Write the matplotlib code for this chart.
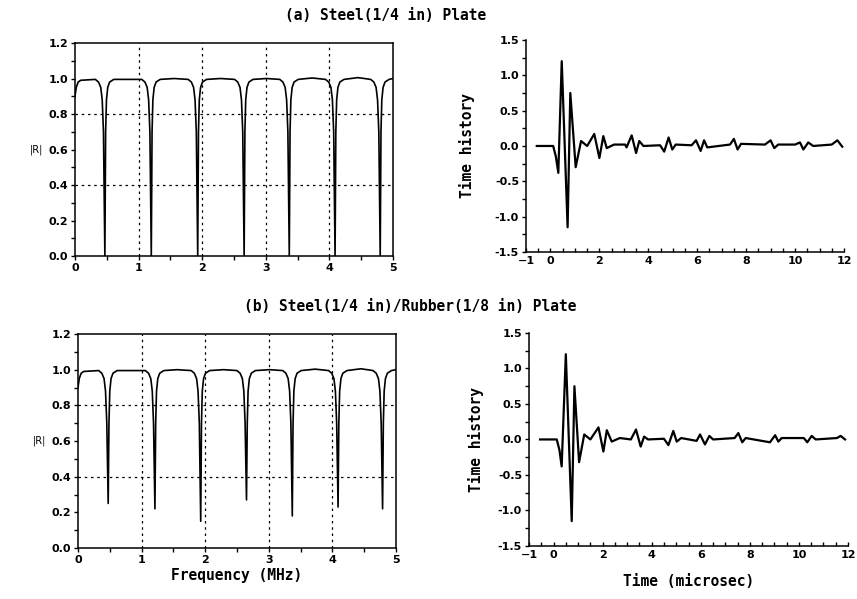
import numpy as np
import matplotlib
matplotlib.use("Agg")
from matplotlib import pyplot as plt
from matplotlib.ticker import MultipleLocator, FormatStrFormatter

# |R| curves: plateau points and resonance dips (MHz, |R|)
plateau_f = [0.0, 0.02, 0.05, 0.09, 0.84, 1.56, 2.29, 3.01, 3.73, 4.45, 5.0]
plateau_r = [0.90, 0.95, 0.98, 0.99, 0.995, 1.0, 1.0, 1.0, 1.003, 1.005, 1.0]

# shape of one dip, offsets from its centre and levels
dip_offset = [-0.15, -0.10, -0.065, -0.042, -0.022, 0.0, 0.012, 0.025, 0.045, 0.075, 0.14]
dip_level = [0.995, 0.98, 0.95, 0.88, 0.70, 0.0, 0.70, 0.88, 0.95, 0.98, 0.995]

dip_a = [0.47, 1.20, 1.93, 2.66, 3.37, 4.09, 4.80]
min_a = [0.0, 0.0, 0.0, 0.0, 0.0, 0.0, 0.0]
dip_b = [0.475, 1.21, 1.93, 2.65, 3.37, 4.09, 4.79]
min_b = [0.25, 0.22, 0.15, 0.27, 0.18, 0.23, 0.22]

# time histories (microsec, amplitude)
t_a = [-0.56, 0.11, 0.22, 0.32, 0.46, 0.70, 0.81, 1.03, 1.25, 1.50, 1.79, 2.00, 2.16,
       2.30, 2.60, 3.05, 3.11, 3.32, 3.50, 3.63, 3.80, 4.48, 4.65, 4.83, 4.98,
       5.12, 5.77, 5.95, 6.14, 6.28, 6.41, 7.34, 7.50, 7.65, 7.79, 8.77, 9.00,
       9.15, 9.31, 10.00, 10.20, 10.34, 10.54, 10.74, 11.50, 11.73, 11.93]
h_a = [0.0, 0.0, -0.15, -0.38, 1.20, -1.15, 0.75, -0.30, 0.07, 0.0, 0.17, -0.17, 0.14,
       -0.03, 0.02, 0.02, -0.02, 0.15, -0.10, 0.07, 0.0, 0.01, -0.08, 0.12, -0.05,
       0.02, 0.01, 0.08, -0.07, 0.08, -0.02, 0.02, 0.10, -0.05, 0.03, 0.02, 0.08,
       -0.03, 0.02, 0.02, 0.05, -0.05, 0.05, 0.0, 0.02, 0.08, -0.01]

t_b = [-0.55, 0.13, 0.24, 0.33, 0.50, 0.74, 0.85, 1.04, 1.25, 1.50, 1.83, 2.03, 2.17,
       2.37, 2.70, 3.15, 3.36, 3.55, 3.69, 3.85, 4.50, 4.68, 4.88, 5.02, 5.20,
       5.83, 5.97, 6.17, 6.35, 6.50, 7.38, 7.53, 7.69, 7.83, 8.82, 9.03, 9.16,
       9.30, 10.20, 10.34, 10.52, 10.68, 11.55, 11.70, 11.88]
h_b = [0.0, 0.0, -0.15, -0.38, 1.20, -1.15, 0.75, -0.32, 0.07, 0.0, 0.17, -0.17, 0.13,
       -0.03, 0.02, 0.0, 0.14, -0.10, 0.04, 0.0, 0.01, -0.08, 0.12, -0.03, 0.02,
       -0.02, 0.07, -0.07, 0.05, 0.0, 0.02, 0.09, -0.04, 0.02, -0.04, 0.06, -0.03,
       0.02, 0.02, -0.04, 0.05, 0.0, 0.02, 0.05, 0.0]

titles = ["(a) Steel(1/4 in) Plate", "(b) Steel(1/4 in)/Rubber(1/8 in) Plate"]
grid_f = [1, 2, 3, 4]
grid_r = [0.4, 0.8]
time_ticks = [-1, 0, 2, 4, 6, 8, 10, 12]


def build_curve(centres, minima):
    pts = list(zip(plateau_f, plateau_r))
    for c, m in zip(centres, minima):
        for off, lev in zip(dip_offset, dip_level):
            pts.append((c + off, max(lev, m)))
    pts.sort()
    f, r = zip(*pts)
    return np.array(f), np.array(r)


tick_font = dict(family="DejaVu Sans", weight="bold", size=8)
mono = dict(family="DejaVu Sans Mono", weight="bold", size=10.5)

fig = plt.figure(figsize=(8.57, 5.99), dpi=100)

left_pos = [[0.0875, 0.5726, 0.371, 0.3556], [0.091, 0.0851, 0.371, 0.3573]]
right_pos = [[0.6138, 0.5793, 0.371, 0.354], [0.6173, 0.0885, 0.3722, 0.3557]]
curves = [build_curve(dip_a, min_a), build_curve(dip_b, min_b)]
waves = [(t_a, h_a), (t_b, h_b)]

for i in range(2):
    ax = fig.add_axes(left_pos[i])
    f, r = curves[i]
    ax.plot(f, r, color="black", lw=1.2)
    ax.set_xlim(0, 5)
    ax.set_ylim(0, 1.2)
    for g in grid_f:
        ax.axvline(g, color="black", ls=(0, (2, 3)), lw=0.9)
    for g in grid_r:
        ax.axhline(g, color="black", ls=(0, (2, 3)), lw=0.9)
    ax.xaxis.set_major_locator(MultipleLocator(1))
    ax.xaxis.set_minor_locator(MultipleLocator(0.5))
    ax.yaxis.set_major_locator(MultipleLocator(0.2))
    ax.yaxis.set_minor_locator(MultipleLocator(0.1))
    ax.yaxis.set_major_formatter(FormatStrFormatter("%.1f"))
    ax.tick_params(which="both", direction="out", length=3, width=1, pad=2)
    for lab in ax.get_xticklabels() + ax.get_yticklabels():
        lab.set_fontproperties(tick_font)
    for s in ax.spines.values():
        s.set_linewidth(1.1)
    ax.set_ylabel("|R|", rotation=0, fontsize=7, labelpad=4, va="center", ha="right")
    if i == 1:
        ax.set_xlabel("Frequency (MHz)", **mono, labelpad=2)

    ax2 = fig.add_axes(right_pos[i])
    t, h = waves[i]
    ax2.plot(t, h, color="black", lw=1.6)
    ax2.set_xlim(-1, 12)
    ax2.set_ylim(-1.5, 1.5)
    ax2.spines["top"].set_visible(False)
    ax2.spines["right"].set_visible(False)
    for s in ("left", "bottom"):
        ax2.spines[s].set_linewidth(1.1)
    ax2.set_xticks(time_ticks)
    ax2.xaxis.set_minor_locator(MultipleLocator(0.5))
    ax2.yaxis.set_major_locator(MultipleLocator(0.5))
    ax2.yaxis.set_minor_locator(MultipleLocator(0.25))
    ax2.yaxis.set_major_formatter(FormatStrFormatter("%.1f"))
    ax2.tick_params(axis="y", which="both", direction="out", length=3, width=1, pad=2)
    ax2.tick_params(axis="x", which="both", direction="in", length=3, width=1, pad=3)
    for lab in ax2.get_xticklabels() + ax2.get_yticklabels():
        lab.set_fontproperties(tick_font)
    ax2.set_ylabel("Time history", **mono, labelpad=14 if i == 0 else 10)
    if i == 1:
        ax2.set_xlabel("Time (microsec)", **mono, labelpad=10)

fig.text(386 / 857, 1 - 15 / 599, titles[0], ha="center", va="center", **mono)
fig.text(410 / 857, 1 - 307 / 599, titles[1], ha="center", va="center", **mono)

fig.savefig("out.png", dpi=100)
